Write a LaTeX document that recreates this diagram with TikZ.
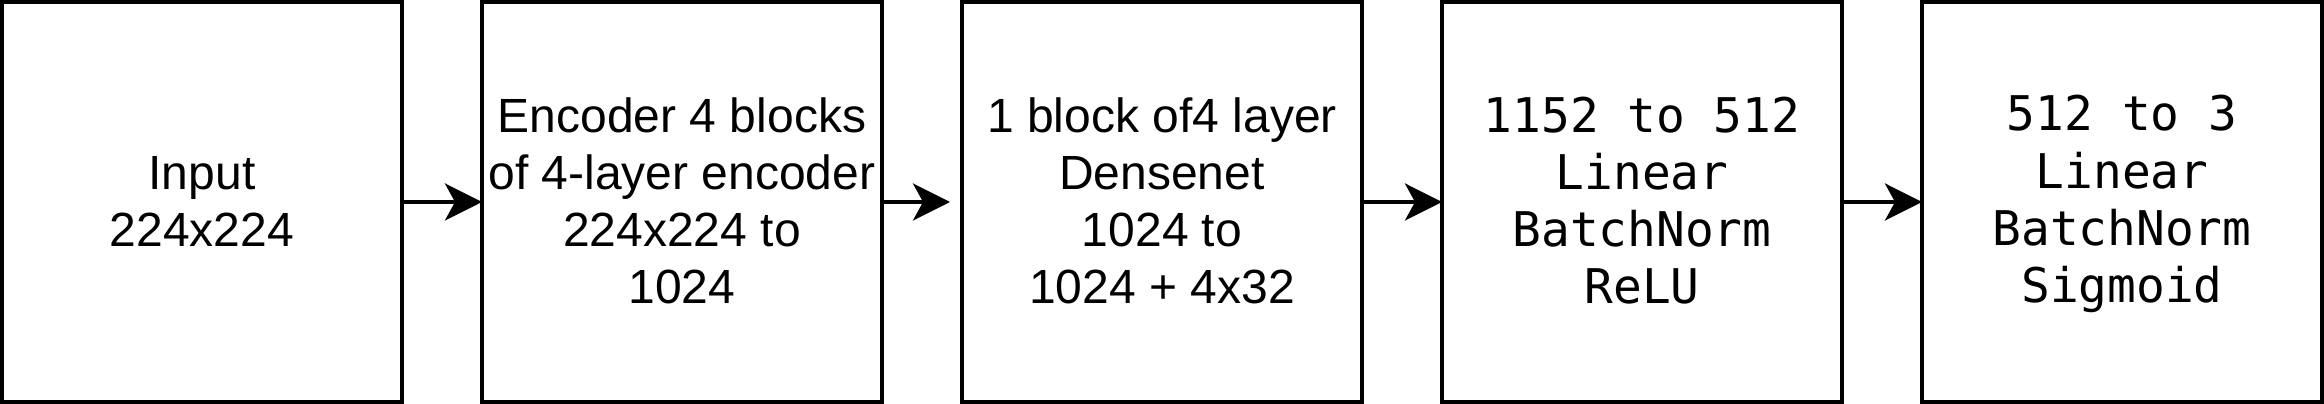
\documentclass[tikz,border=0pt]{standalone}
\usepackage{fontspec}
\setmainfont{Liberation Sans}
\setmonofont{DejaVu Sans Mono}
\usetikzlibrary{arrows.meta}
\newcommand\mystrut{\rule[-8pt]{0pt}{48pt}}
\tikzset{
  blockbox/.style={draw=black, line width=4pt, minimum width=400pt, minimum height=400pt,
    inner sep=0pt, outer sep=0pt, align=center, font=\fontsize{48pt}{57.3pt}\selectfont},
  monobox/.style={blockbox, font=\fontsize{47.8pt}{57.3pt}\selectfont\ttfamily},
  flow/.style={line width=4pt, -{Stealth[length=37pt, width=37pt, inset=10pt]}}
}
\begin{document}
\begin{tikzpicture}[x=1pt, y=1pt]
\useasboundingbox (0,0) rectangle (2324,404);
\node[blockbox] (in) at (202,202) {\mystrut Input\\224x224\mystrut};
\node[blockbox] (enc) at (682,202) {\mystrut Encoder 4 blocks\\of 4-layer encoder\\224x224 to\\1024\mystrut};
\node[blockbox] (dense) at (1162,202) {\mystrut 1 block of4 layer\\Densenet\\1024 to\\1024 + 4x32\mystrut};
\node[monobox] (lin1) at (1642,202) {\mystrut 1152 to 512\\Linear\\BatchNorm\\ReLU\mystrut};
\node[monobox] (lin2) at (2122,202) {\mystrut 512 to 3\\Linear\\BatchNorm\\Sigmoid\mystrut};
\draw[flow] (in) -- (enc);
\draw[flow, shorten >=12pt] (enc) -- (dense);
\draw[flow] (dense) -- (lin1);
\draw[flow] (lin1) -- (lin2);
\end{tikzpicture}
\end{document}
